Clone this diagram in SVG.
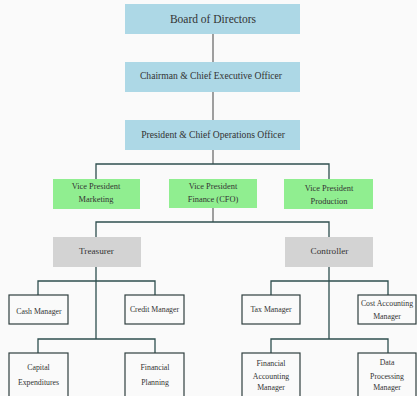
<svg xmlns="http://www.w3.org/2000/svg" width="417" height="396" viewBox="0 0 417 396">
<style>
text{font-family:"Liberation Serif","Times New Roman",serif;fill:#333;text-anchor:middle}
.blue{fill:#ADD8E6}
.green{fill:#90EE90}
.gray{fill:#D3D3D3}
.mgr{fill:#fafafa;stroke:#2f3f3f;stroke-width:1.2}
.ln{stroke:#2f4f4f;stroke-width:1.3;fill:none}
.lg{stroke:#808080;stroke-width:1.5;fill:none}
.t1{font-size:11.5px}
.t2{font-size:9.6px}
.t3{font-size:8.4px}
.t4{font-size:9.2px}
.t5{font-size:7.8px}
</style>
<rect width="417" height="396" fill="#fafafa"/>
<g id="connectors">
<path class="lg" d="M213 34V62M213 92V120M213 150V164M213 208V222"/>
<path class="ln" d="M96 179V164H329V179M96 237V222H329V237"/>
<path class="ln" d="M96 267V339M38 295V281H155V295M38 353V339H155V353"/>
<path class="ln" d="M329 267V339M271 295V281H388V295M271 353V339H388V353"/>
</g>
<g id="board"><rect class="blue" x="125" y="4" width="175" height="30"/><text class="t1" x="213" y="22.5">Board of Directors</text></g>
<g id="ceo"><rect class="blue" x="125" y="62" width="175" height="30"/><text class="t2" x="211" y="79">Chairman &amp; Chief Executive Officer</text></g>
<g id="president"><rect class="blue" x="125" y="120" width="175" height="30"/><text class="t2" x="213" y="138">President &amp; Chief Operations Officer</text></g>
<g id="vp-marketing"><rect class="green" x="53" y="179" width="87" height="30"/><text class="t3" x="96" y="189">Vice President</text><text class="t3" x="96" y="202">Marketing</text></g>
<g id="vp-finance"><rect class="green" x="169" y="179" width="88" height="29"/><text class="t3" x="213" y="189">Vice President</text><text class="t3" x="213" y="202">Finance (CFO)</text></g>
<g id="vp-production"><rect class="green" x="284" y="179" width="89" height="30"/><text class="t3" x="329" y="191">Vice President</text><text class="t3" x="329" y="204">Production</text></g>
<g id="treasurer"><rect class="gray" x="53" y="237" width="88" height="30"/><text class="t4" x="96.5" y="254">Treasurer</text></g>
<g id="controller"><rect class="gray" x="285" y="237" width="88" height="30"/><text class="t4" x="329.5" y="254">Controller</text></g>
<g id="cash-manager"><rect class="mgr" x="9" y="295" width="59" height="29"/><text class="t5" x="39" y="313.5">Cash Manager</text></g>
<g id="credit-manager"><rect class="mgr" x="125" y="295" width="59" height="29"/><text class="t5" x="154.5" y="312">Credit Manager</text></g>
<g id="capital-expenditures"><rect class="mgr" x="9" y="353" width="59" height="50"/><text class="t5" x="38.5" y="370">Capital</text><text class="t5" x="38.5" y="385">Expenditures</text></g>
<g id="financial-planning"><rect class="mgr" x="125" y="353" width="59" height="50"/><text class="t5" x="155" y="370">Financial</text><text class="t5" x="155" y="385">Planning</text></g>
<g id="tax-manager"><rect class="mgr" x="242" y="295" width="58" height="29"/><text class="t5" x="271" y="311.5">Tax Manager</text></g>
<g id="cost-accounting-manager"><rect class="mgr" x="358" y="295" width="58" height="29"/><text class="t5" x="387" y="305.5">Cost Accounting</text><text class="t5" x="387" y="319">Manager</text></g>
<g id="financial-accounting-manager"><rect class="mgr" x="242" y="353" width="58" height="50"/><text class="t5" x="271" y="365.5">Financial</text><text class="t5" x="271" y="379">Accounting</text><text class="t5" x="271" y="390">Manager</text></g>
<g id="data-processing-manager"><rect class="mgr" x="358" y="353" width="58" height="50"/><text class="t5" x="387" y="365">Data</text><text class="t5" x="387" y="379">Processing</text><text class="t5" x="387" y="390">Manager</text></g>
</svg>
